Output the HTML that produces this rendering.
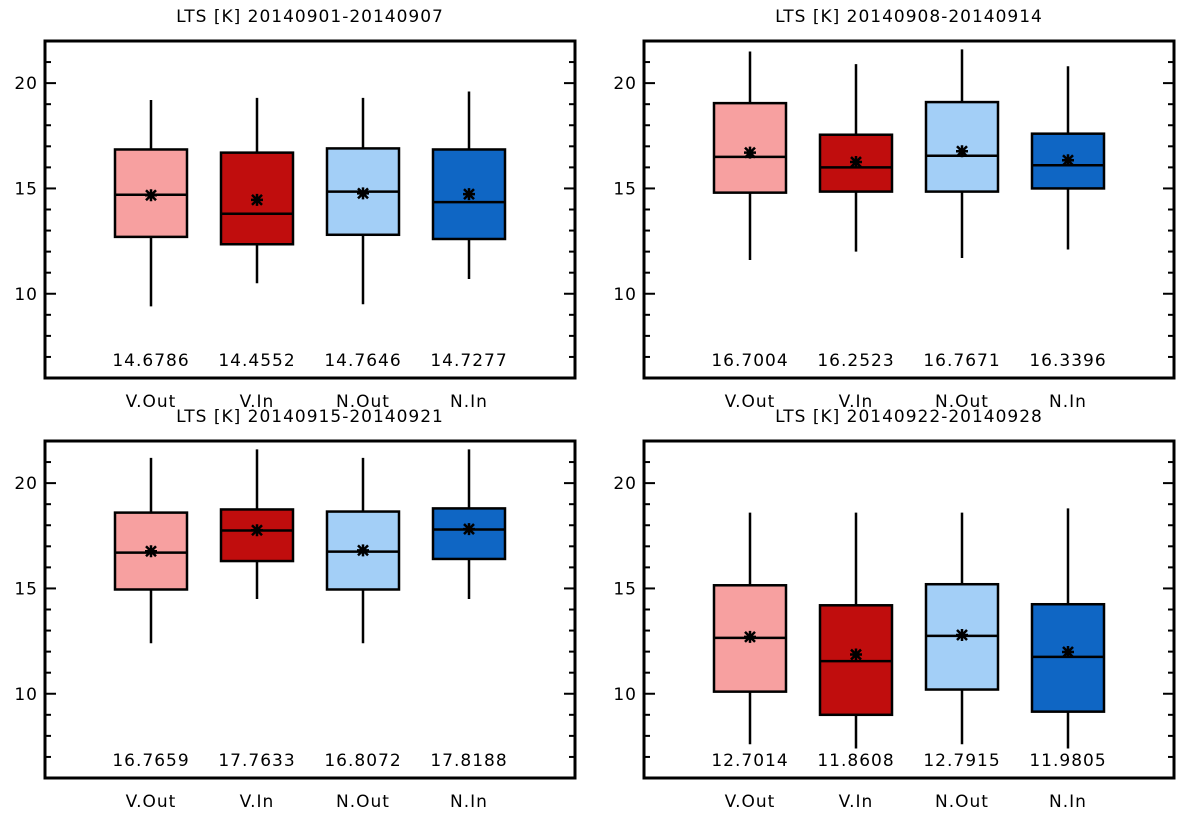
<!DOCTYPE html>
<html><head><meta charset="utf-8"><style>
html,body{margin:0;padding:0;background:#fff;}
svg{display:block;font-family:"DejaVu Sans","Liberation Sans",sans-serif;}
svg text{letter-spacing:1px;}
</style></head><body>
<svg id="chart" width="1193" height="823"></svg>
<script>
const categories = ["V.Out","V.In","N.Out","N.In"];
const colors = ["#f7a0a0","#c00d0d","#a3cff7","#0f66c4"];
const titles = ["LTS [K] 20140901-20140907","LTS [K] 20140908-20140914","LTS [K] 20140915-20140921","LTS [K] 20140922-20140928"];
const means = [[14.6786,14.4552,14.7646,14.7277],[16.7004,16.2523,16.7671,16.3396],[16.7659,17.7633,16.8072,17.8188],[12.7014,11.8608,12.7915,11.9805]];
const meanLabels = [["14.6786","14.4552","14.7646","14.7277"],["16.7004","16.2523","16.7671","16.3396"],["16.7659","17.7633","16.8072","17.8188"],["12.7014","11.8608","12.7915","11.9805"]];
const whiskerLow = [[9.4,10.5,9.5,10.7],[11.6,12.0,11.7,12.1],[12.4,14.5,12.4,14.5],[7.6,7.4,7.6,7.4]];
const whiskerHigh = [[19.2,19.3,19.3,19.6],[21.5,20.9,21.6,20.8],[21.2,21.6,21.2,21.6],[18.6,18.6,18.6,18.8]];
const q1 = [[12.7,12.35,12.8,12.6],[14.8,14.85,14.85,15.0],[14.95,16.3,14.95,16.4],[10.1,9.0,10.2,9.15]];
const q3 = [[16.85,16.7,16.9,16.85],[19.05,17.55,19.1,17.6],[18.6,18.75,18.65,18.8],[15.15,14.2,15.2,14.25]];
const medians = [[14.7,13.8,14.85,14.35],[16.5,16.0,16.55,16.1],[16.7,17.75,16.75,17.8],[12.65,11.55,12.75,11.75]];
const yTicks = [10,15,20];
const yMin = 6, yMax = 22;

const NS="http://www.w3.org/2000/svg";
const svg=document.getElementById('chart');
function mk(tag,attrs,parent){const e=document.createElementNS(NS,tag);for(const k in attrs)e.setAttribute(k,attrs[k]);(parent||svg).appendChild(e);return e;}
const panels=[{x:45,y:41},{x:644,y:41},{x:45,y:441},{x:644,y:441}];
const W=530,H=337;
panels.forEach((p,pi)=>{
  const g=mk('g',{});
  
  
  const ys=v=>p.y+H-(v-yMin)/(yMax-yMin)*H;
  const xs=i=>p.x+(i+1)*W/5;
  const t=mk('text',{x:p.x+W/2,y:p.y-19,'text-anchor':'middle','font-size':17},g);
  t.textContent=titles[pi];
  
  
  for(let v=yMin+1;v<yMax;v++){
    const len=(v%5===0)?11:6;
    mk('line',{x1:p.x,x2:p.x+len,y1:ys(v),y2:ys(v),stroke:'#000','stroke-width':2},g);
    mk('line',{x1:p.x+W,x2:p.x+W-len,y1:ys(v),y2:ys(v),stroke:'#000','stroke-width':2},g);
  }
  yTicks.forEach(v=>{
    const tl=mk('text',{x:p.x-7,y:ys(v)+6,'text-anchor':'end','font-size':17},g);
    tl.textContent=v;
    
    
  });
  categories.forEach((c,i)=>{
    const cx=xs(i),bw=36;
    const b=mk('g',{},g);
    
    
    mk('line',{x1:cx,x2:cx,y1:ys(whiskerLow[pi][i]),y2:ys(whiskerHigh[pi][i]),stroke:'#000','stroke-width':2.5},b);
    mk('rect',{x:cx-bw,y:ys(q3[pi][i]),width:2*bw,height:ys(q1[pi][i])-ys(q3[pi][i]),fill:colors[i],stroke:'#000','stroke-width':2.5},b);
    mk('line',{x1:cx-bw,x2:cx+bw,y1:ys(medians[pi][i]),y2:ys(medians[pi][i]),stroke:'#000','stroke-width':2.5},b);
    const my=ys(means[pi][i]);
    const m=mk('path',{d:`M${cx-6} ${my}H${cx+6}M${cx} ${my-6}V${my+6}M${cx-5} ${my-5}L${cx+5} ${my+5}M${cx-5} ${my+5}L${cx+5} ${my-5}`,stroke:'#000','stroke-width':2.5},b);
    
    
    const vl=mk('text',{x:cx,y:p.y+H-12,'text-anchor':'middle','font-size':17},g);
    vl.textContent=meanLabels[pi][i];
    
    
    const cl=mk('text',{x:cx,y:p.y+H+29,'text-anchor':'middle','font-size':17},g);
    cl.textContent=c;
    
    
  });
  const fr=mk('rect',{x:p.x,y:p.y,width:W,height:H,fill:'none',stroke:'#000','stroke-width':3},g);
  
  
});
</script>
</body></html>
